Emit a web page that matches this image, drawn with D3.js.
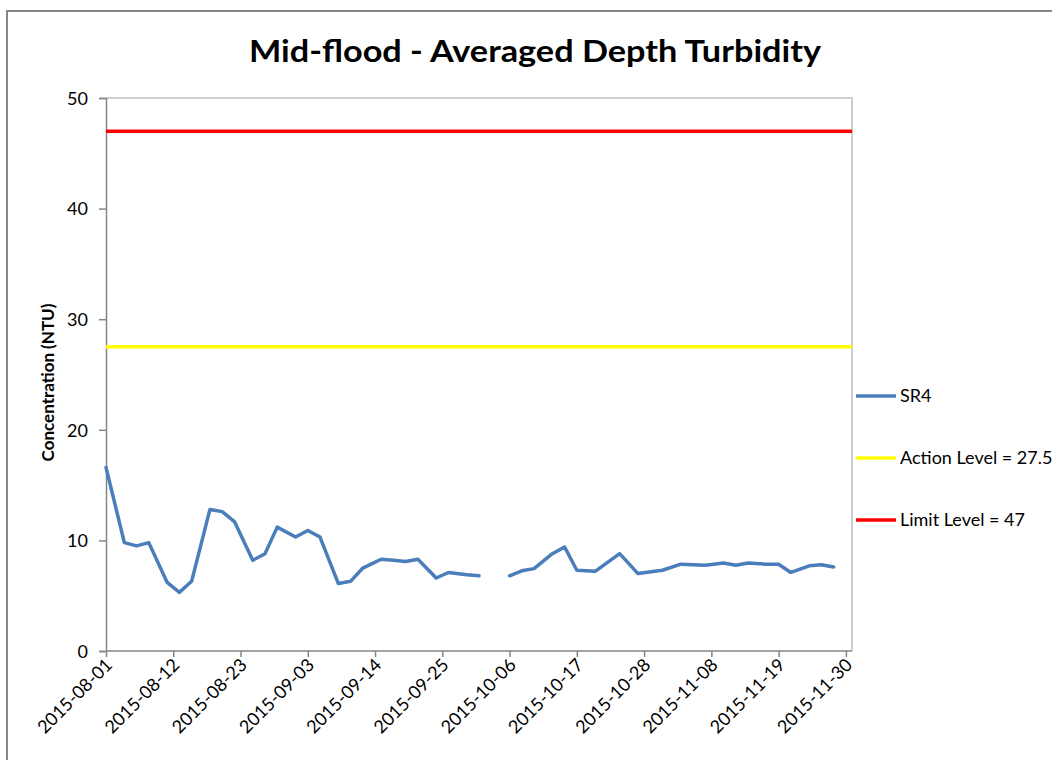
<!DOCTYPE html>
<html>
<head>
<meta charset="utf-8">
<script src="https://cdn.jsdelivr.net/npm/d3@7"></script>
<style>
  html, body { margin: 0; padding: 0; background: #fff; }
  svg { display: block; }
  text { font-family: Lato, "Open Sans", sans-serif; fill: #000; }
</style>
</head>
<body>
<svg id="chart" width="1052" height="760"></svg>
<script>
// Sampling dates (mid-flood survey) and averaged-depth turbidity at station SR4
const sampleDates = [
  "2015-08-01","2015-08-04","2015-08-06","2015-08-08","2015-08-11","2015-08-13","2015-08-15",
  "2015-08-18","2015-08-20","2015-08-22","2015-08-25","2015-08-27","2015-08-29",
  "2015-09-01","2015-09-03","2015-09-05","2015-09-08","2015-09-10","2015-09-12",
  "2015-09-15","2015-09-17","2015-09-19","2015-09-21","2015-09-24","2015-09-26","2015-09-29",
  "2015-10-01","2015-10-03","2015-10-06","2015-10-08","2015-10-10","2015-10-13","2015-10-15",
  "2015-10-17","2015-10-20","2015-10-24","2015-10-27","2015-10-31",
  "2015-11-03","2015-11-05","2015-11-07","2015-11-10","2015-11-12","2015-11-14",
  "2015-11-17","2015-11-19","2015-11-21","2015-11-24","2015-11-26","2015-11-28"
];
const sr4Values = [
  16.6, 9.8, 9.5, 9.8, 6.2, 5.3, 6.3,
  12.8, 12.6, 11.7, 8.2, 8.8, 11.2,
  10.3, 10.9, 10.3, 6.1, 6.3, 7.5,
  8.3, 8.2, 8.1, 8.3, 6.6, 7.1, 6.9,
  6.8, null, 6.8, 7.25, 7.45, 8.8, 9.4,
  7.3, 7.2, 8.8, 7.0, 7.3,
  7.85, 7.8, 7.75, 7.95, 7.75, 7.95,
  7.85, 7.85, 7.1, 7.7, 7.8, 7.6
];

const actionLevel = 27.5;
const limitLevel = 47;

const xTickLabels = [
  "2015-08-01","2015-08-12","2015-08-23","2015-09-03","2015-09-14","2015-09-25",
  "2015-10-06","2015-10-17","2015-10-28","2015-11-08","2015-11-19","2015-11-30"
];
const yTickValues = [0, 10, 20, 30, 40, 50];

const legendLabels = ["SR4", "Action Level = 27.5", "Limit Level = 47"];
const legendColors = ["#4A7EBB", "#FFFF00", "#FF0000"];

const parse = d3.utcParse("%Y-%m-%d");
const fmt = d3.utcFormat("%Y-%m-%d");

const series = sampleDates.map((d, i) => ({ date: parse(d), value: sr4Values[i] }));

const svg = d3.select("#chart");

// outer chart frame
svg.append("rect")
  .attr("x", 7).attr("y", 11)
  .attr("width", 1060).attr("height", 760)
  .attr("fill", "#fff")
  .attr("stroke", "#868686").attr("stroke-width", 2);

const plot = { left: 106, right: 852, top: 98, bottom: 651 };

const x = d3.scaleUtc()
  .domain([parse("2015-08-01"), parse("2015-12-01")])
  .range([plot.left, plot.right]);

const y = d3.scaleLinear()
  .domain([0, 50])
  .range([plot.bottom, plot.top]);

// plot area border (top and right)
svg.append("path")
  .attr("d", `M${plot.left},${plot.top}H${plot.right}V${plot.bottom}`)
  .attr("fill", "none")
  .attr("stroke", "#BFBFBF").attr("stroke-width", 1.5);

// title
svg.append("text")
  .attr("x", 535).attr("y", 62)
  .attr("text-anchor", "middle")
  .attr("font-size", 30).attr("font-weight", "bold")
  .attr("textLength", 572).attr("lengthAdjust", "spacingAndGlyphs")
  .text("Mid-flood - Averaged Depth Turbidity");

// y axis
const yAxis = svg.append("g")
  .attr("transform", `translate(${plot.left},0)`)
  .call(d3.axisLeft(y).tickValues(yTickValues).tickSize(7).tickPadding(11).tickFormat(d3.format("d")));
yAxis.select(".domain").attr("stroke", "#868686").attr("stroke-width", 1.5);
yAxis.selectAll(".tick line").attr("stroke", "#868686").attr("stroke-width", 1.5);
yAxis.selectAll(".tick text")
  .attr("font-size", 18).attr("font-family", "Lato, sans-serif").attr("fill", "#000")
  .attr("dy", "0.35em");

svg.append("text")
  .attr("transform", `translate(54,${(plot.top + plot.bottom) / 2 + 8}) rotate(-90)`)
  .attr("text-anchor", "middle")
  .attr("font-size", 17).attr("font-weight", "bold")
  .text("Concentration (NTU)");

// x axis
const xAxis = svg.append("g")
  .attr("transform", `translate(0,${plot.bottom})`)
  .call(d3.axisBottom(x).tickValues(xTickLabels.map(parse)).tickSize(6).tickFormat(fmt));
xAxis.select(".domain").attr("stroke", "#868686").attr("stroke-width", 1.5)
  .attr("d", `M${plot.left},0H${plot.right}`);
xAxis.selectAll(".tick line").attr("stroke", "#868686").attr("stroke-width", 1.5);
xAxis.selectAll(".tick text")
  .attr("font-size", 18).attr("font-family", "Lato, sans-serif").attr("fill", "#000")
  .attr("text-anchor", "end")
  .attr("dy", null).attr("y", 0)
  .attr("transform", "translate(7,15) rotate(-45)");

// threshold lines
svg.append("line")
  .attr("x1", plot.left).attr("x2", plot.right)
  .attr("y1", y(actionLevel)).attr("y2", y(actionLevel))
  .attr("stroke", legendColors[1]).attr("stroke-width", 3.5);
svg.append("line")
  .attr("x1", plot.left).attr("x2", plot.right)
  .attr("y1", y(limitLevel)).attr("y2", y(limitLevel))
  .attr("stroke", legendColors[2]).attr("stroke-width", 3.5);

// SR4 series, with a gap where no sample was taken
const line = d3.line()
  .defined(d => d.value != null)
  .x(d => x(d.date))
  .y(d => y(d.value));

svg.append("path")
  .datum(series)
  .attr("d", line)
  .attr("fill", "none")
  .attr("stroke", legendColors[0])
  .attr("stroke-width", 3.5)
  .attr("stroke-linejoin", "round")
  .attr("stroke-linecap", "round");

// legend
const legend = svg.append("g");
legendLabels.forEach((label, i) => {
  const ly = 396 + i * 62;
  legend.append("line")
    .attr("x1", 856).attr("x2", 896)
    .attr("y1", ly).attr("y2", ly)
    .attr("stroke", legendColors[i]).attr("stroke-width", 3.5);
  legend.append("text")
    .attr("x", 900).attr("y", ly)
    .attr("dy", "0.35em")
    .attr("font-size", 18)
    .text(label);
});
</script>
</body>
</html>
